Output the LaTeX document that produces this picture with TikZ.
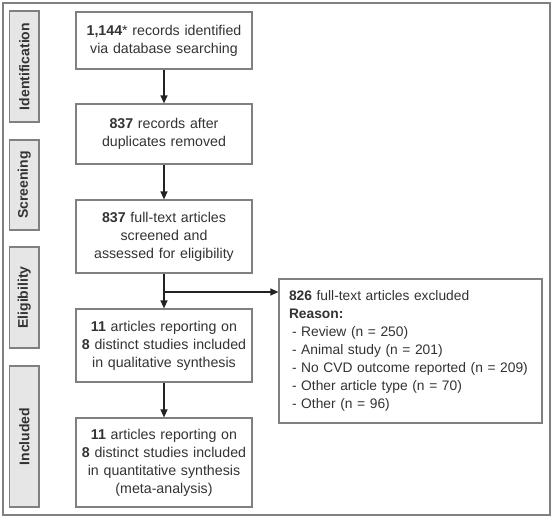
\documentclass[tikz,border=0pt]{standalone}
\usepackage{fontspec}
\setmainfont{Liberation Sans}
\usetikzlibrary{arrows.meta}
\definecolor{txt}{HTML}{333333}
\definecolor{frame}{HTML}{808080}
\definecolor{side}{HTML}{E6E6E6}
\definecolor{arr}{HTML}{222222}
\begin{document}
\begin{tikzpicture}[x=1pt,y=-1pt,
  every node/.style={text=txt, font=\fontsize{14.2}{18}\selectfont},
  mainbox/.style={draw=frame, line width=1.2pt, fill=white, inner sep=0pt,
    text width=176pt, align=center, minimum width=176pt},
  sidebox/.style={draw=frame, line width=1.2pt, fill=side, inner sep=0pt,
    rotate=90, minimum height=29.5pt, font=\fontsize{14}{17}\selectfont\bfseries},
  exbox/.style={draw=frame, line width=1.2pt, fill=white, inner xsep=10pt, inner ysep=0pt,
    text width=243pt, align=left, font=\fontsize{13.8}{18}\selectfont},
  flow/.style={draw=arr, line width=1.3pt, -{Triangle[length=8pt,width=7pt]}}
]
\useasboundingbox (0,0) rectangle (554,519);
\draw[frame, line width=1.2pt] (3,3) rectangle (550,515);
% side labels
\node[sidebox, minimum width=111pt] (sI) at (24.25,66.5) {Identification};
\node[sidebox, minimum width=90pt] (sS) at (24.25,185) {Screening};
\node[sidebox, minimum width=101pt] (sE) at (24.25,297.5) {Eligibility};
\node[sidebox, minimum width=141pt] (sN) at (24.25,436.5) {Included};
% main boxes
\node[mainbox, minimum height=57pt] (b1) at (164,40.5)
  {\textbf{1,144}* records identified\\via database searching};
\node[mainbox, minimum height=60pt] (b2) at (164,134)
  {\textbf{837} records after\\duplicates removed};
\node[mainbox, minimum height=73pt] (b3) at (164,236.5)
  {\textbf{837} full-text articles\\screened and\\assessed for eligibility};
\node[mainbox, minimum height=73pt] (b4) at (164,345.5)
  {\textbf{11} articles reporting on\\\textbf{8} distinct studies included\\in qualitative synthesis};
\node[mainbox, minimum height=89pt] (b5) at (164,462.5)
  {\textbf{11} articles reporting on\\\textbf{8} distinct studies included\\in quantitative synthesis\\(meta-analysis)};
% excluded box
\node[exbox, minimum height=144pt] (ex) at (410.5,351)
  {\textbf{826} full-text articles excluded\\
   \textbf{Reason:}\\
   \hspace*{3pt}- Review (n = 250)\\
   \hspace*{3pt}- Animal study (n = 201)\\
   \hspace*{3pt}- No CVD outcome reported (n = 209)\\
   \hspace*{3pt}- Other article type (n = 70)\\
   \hspace*{3pt}- Other (n = 96)};
% connectors
\coordinate (br) at (164,292);
\draw[flow] (b1.south) -- (b2.north);
\draw[flow] (b2.south) -- (b3.north);
\draw[flow] (b3.south) -- (b4.north);
\draw[flow] (b4.south) -- (b5.north);
\draw[flow] (br) -- (br -| ex.west);
\end{tikzpicture}
\end{document}
